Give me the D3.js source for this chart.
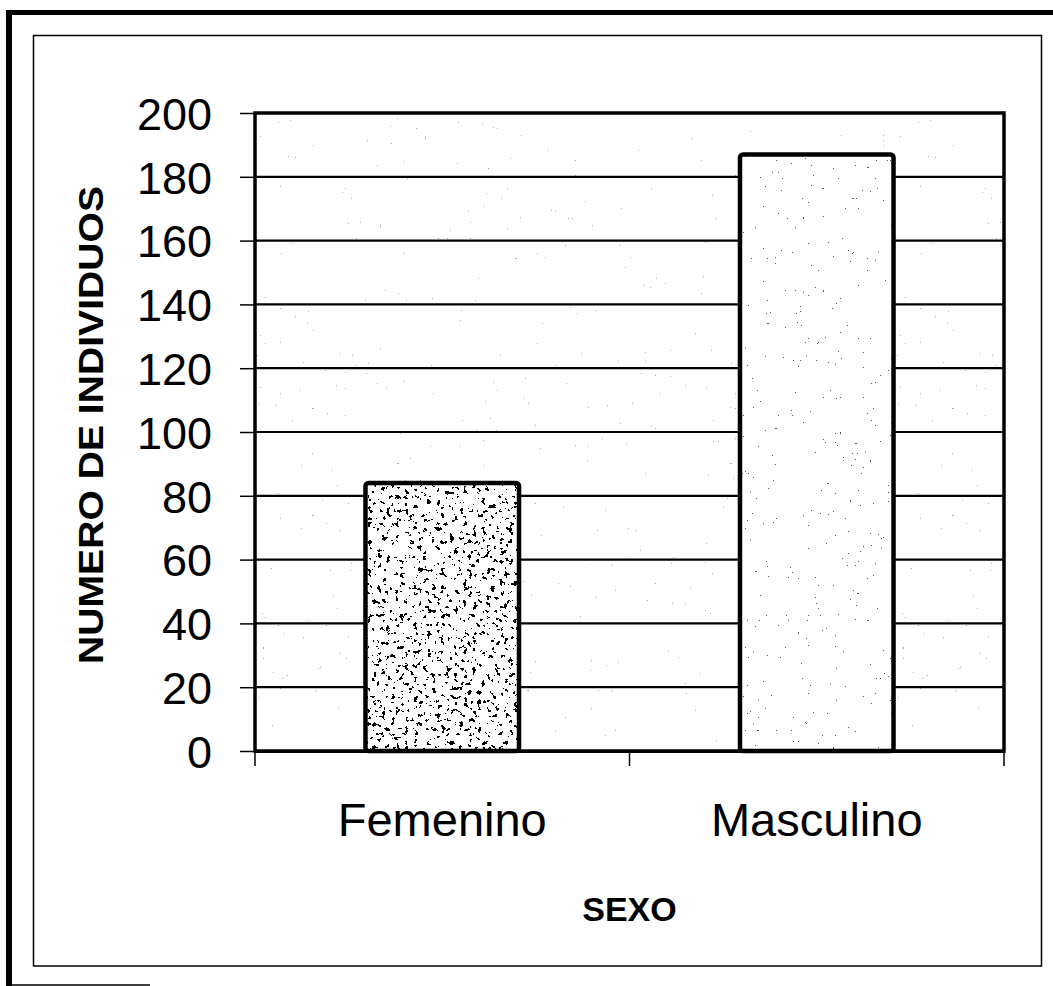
<!DOCTYPE html>
<html>
<head>
<meta charset="utf-8">
<script src="https://cdn.jsdelivr.net/npm/d3@7"></script>
<style>
  body { margin: 0; background: #fff; }
  svg { display: block; }
  text { font-family: Arial, "Liberation Sans", sans-serif; fill: #000; }
</style>
</head>
<body>
<div id="chart"></div>
<script>
const categories = ["Femenino", "Masculino"];
const values = [84, 187];
const yTicks = [0, 20, 40, 60, 80, 100, 120, 140, 160, 180, 200];
const xTitle = "SEXO";
const yTitle = "NUMERO DE INDIVIDUOS";

const width = 1053;
const height = 986;
const plot = { left: 255, right: 1004, top: 113, bottom: 751 };

const svg = d3.select("#chart").append("svg")
  .attr("width", width)
  .attr("height", height);

svg.append("rect").attr("width", width).attr("height", height).attr("fill", "#fff");

// speckle textures (scanned look)
const defs = svg.append("defs");
function speckle(id, freq, seed, cut, colour) {
  const f = defs.append("filter").attr("id", id)
    .attr("x", 0).attr("y", 0).attr("width", 1).attr("height", 1);
  f.append("feTurbulence").attr("type", "fractalNoise")
    .attr("baseFrequency", freq).attr("numOctaves", 3).attr("seed", seed).attr("result", "noise");
  f.append("feColorMatrix").attr("in", "noise").attr("type", "matrix")
    .attr("values", "0 0 0 0 0  0 0 0 0 0  0 0 0 0 0  1 0 0 0 0").attr("result", "a");
  const ct = f.append("feComponentTransfer").attr("in", "a").attr("result", "mask");
  ct.append("feFuncA").attr("type", "discrete").attr("tableValues", cut);
  f.append("feFlood").attr("flood-color", colour).attr("result", "ink");
  f.append("feComposite").attr("in", "ink").attr("in2", "mask").attr("operator", "in").attr("result", "dots");
  f.append("feComposite").attr("in", "dots").attr("in2", "SourceAlpha").attr("operator", "in").attr("result", "clipped");
  const m = f.append("feMerge");
  m.append("feMergeNode").attr("in", "SourceGraphic");
  m.append("feMergeNode").attr("in", "clipped");
}
// threshold tables: 1 only in the upper buckets of the noise
speckle("texFem", 0.22, 3, "0 0 0 0 0 0 0 0 0 0 0 0 0 1 1 1 1 1 1 1", "#000");
speckle("texMas", 0.4, 7, "0 0 0 0 0 0 0 0 0 0 0 0 0 0 0 0 1 1 1 1", "#555");
speckle("texBg", 0.4, 11, "0 0 0 0 0 0 0 0 0 0 0 0 0 0 0 0 0 1 1 1", "#aaa");

// frames
svg.append("line").attr("x1", 9).attr("x2", 9).attr("y1", 10).attr("y2", 986)
  .attr("stroke", "#000").attr("stroke-width", 6);
svg.append("line").attr("x1", 6).attr("x2", width).attr("y1", 12.5).attr("y2", 12.5)
  .attr("stroke", "#000").attr("stroke-width", 5);
svg.append("line").attr("x1", 12).attr("x2", 150).attr("y1", 985).attr("y2", 985)
  .attr("stroke", "#000").attr("stroke-width", 1.5);
svg.append("rect").attr("x", 33.5).attr("y", 35.5).attr("width", 1008).attr("height", 930.5)
  .attr("fill", "none").attr("stroke", "#000").attr("stroke-width", 1.5);

const x = d3.scaleBand().domain(categories)
  .range([plot.left, plot.right]).paddingInner(0.59).paddingOuter(0.295);
const y = d3.scaleLinear().domain([0, 200]).range([plot.bottom, plot.top]);

// plot background
svg.append("rect")
  .attr("x", plot.left).attr("y", plot.top)
  .attr("width", plot.right - plot.left).attr("height", plot.bottom - plot.top)
  .attr("fill", "#fff").attr("filter", "url(#texBg)");

// gridlines
svg.append("g").selectAll("line")
  .data(yTicks.filter(d => d > 0 && d < 200))
  .join("line")
  .attr("x1", plot.left).attr("x2", plot.right)
  .attr("y1", d => y(d)).attr("y2", d => y(d))
  .attr("stroke", "#000").attr("stroke-width", 2.2);

// y axis
const yAxis = svg.append("g")
  .attr("transform", `translate(${plot.left},0)`)
  .call(d3.axisLeft(y).tickValues(yTicks).tickSize(15).tickPadding(28));
yAxis.select(".domain").remove();
yAxis.selectAll(".tick line").attr("stroke", "#000").attr("stroke-width", 1.5);
yAxis.selectAll(".tick text")
  .attr("font-size", 45).attr("dy", "0.36em")
  .style("font-family", "Arial, 'Liberation Sans', sans-serif");

// bars
svg.append("g").selectAll("rect")
  .data(categories.map((c, i) => ({ c, v: values[i], i })))
  .join("rect")
  .attr("x", d => x(d.c))
  .attr("y", d => y(d.v))
  .attr("width", x.bandwidth())
  .attr("height", d => y(0) - y(d.v))
  .attr("rx", 3)
  .attr("fill", "#fff")
  .attr("filter", d => d.i === 0 ? "url(#texFem)" : "url(#texMas)");
svg.append("g").selectAll("rect")
  .data(categories.map((c, i) => ({ c, v: values[i] })))
  .join("rect")
  .attr("x", d => x(d.c))
  .attr("y", d => y(d.v))
  .attr("width", x.bandwidth())
  .attr("height", d => y(0) - y(d.v))
  .attr("rx", 3)
  .attr("fill", "none")
  .attr("stroke", "#000")
  .attr("stroke-width", 4.5);

// plot frame
svg.append("rect")
  .attr("x", plot.left).attr("y", plot.top)
  .attr("width", plot.right - plot.left).attr("height", plot.bottom - plot.top)
  .attr("fill", "none").attr("stroke", "#000").attr("stroke-width", 3.5);

// x axis
const xAxis = svg.append("g")
  .attr("transform", `translate(0,${plot.bottom})`)
  .call(d3.axisBottom(x).tickSize(0).tickPadding(52));
xAxis.select(".domain").attr("stroke", "#000").attr("stroke-width", 3);
xAxis.selectAll(".tick text")
  .attr("font-size", 47)
  .style("font-family", "Arial, 'Liberation Sans', sans-serif");
const step = x.step();
const bounds = [plot.left, plot.left + step, plot.left + 2 * step];
xAxis.append("g").selectAll("line")
  .data(bounds)
  .join("line")
  .attr("x1", d => d).attr("x2", d => d)
  .attr("y1", 0).attr("y2", 15)
  .attr("stroke", "#000").attr("stroke-width", 1.5);

// titles
svg.append("text")
  .attr("x", (plot.left + plot.right) / 2)
  .attr("y", 921)
  .attr("text-anchor", "middle")
  .attr("font-size", 34)
  .attr("font-weight", "bold")
  .text(xTitle);

svg.append("text")
  .attr("transform", `translate(103,425) rotate(-90)`)
  .attr("text-anchor", "middle")
  .attr("font-size", 35)
  .attr("font-weight", "bold")
  .attr("textLength", 478)
  .attr("lengthAdjust", "spacingAndGlyphs")
  .text(yTitle);
</script>
</body>
</html>
